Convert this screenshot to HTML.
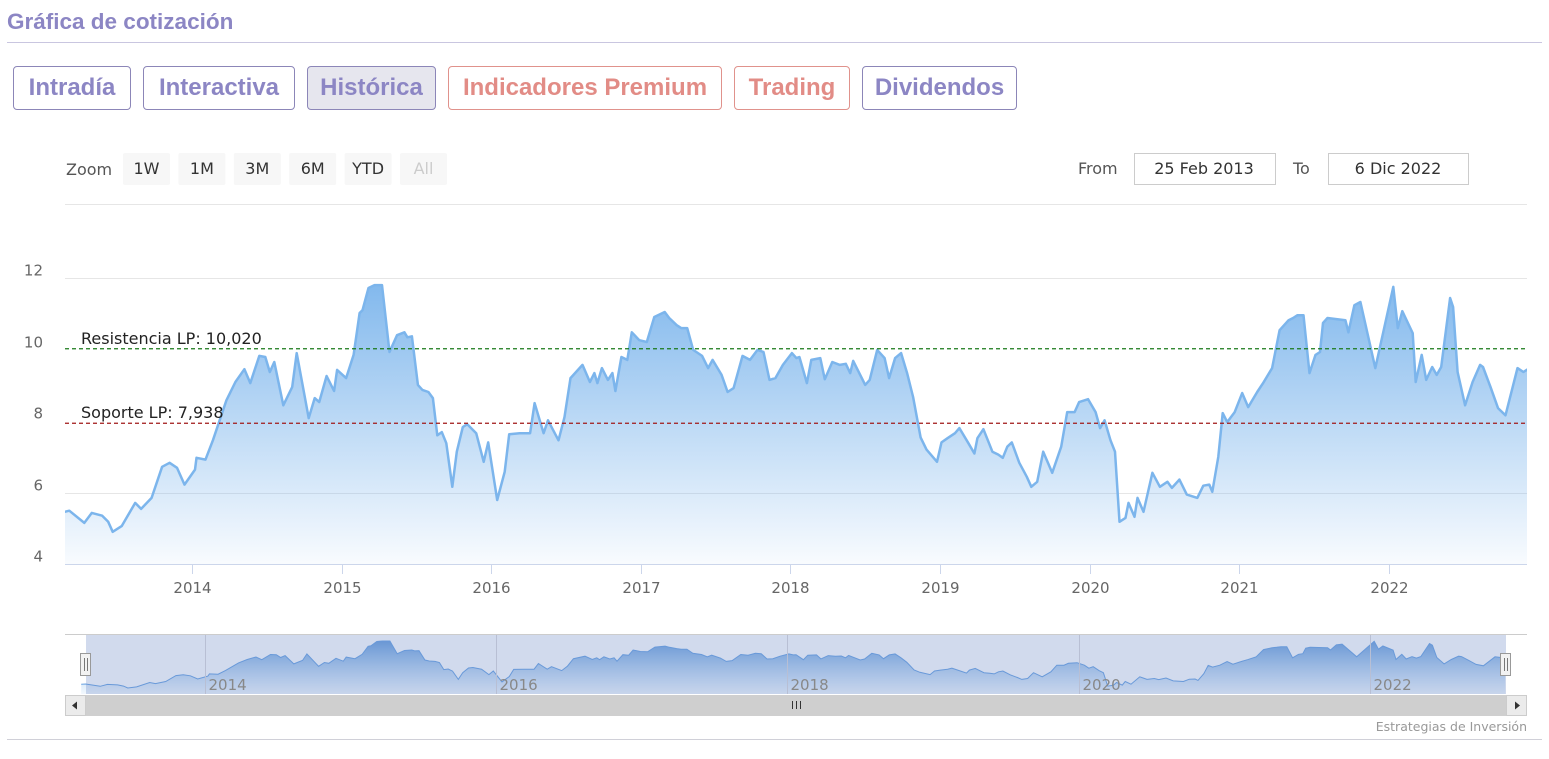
<!DOCTYPE html>
<html><head><meta charset="utf-8">
<style>
body{margin:0;width:1549px;height:759px;background:#fff;font-family:"Liberation Sans",sans-serif;position:relative;overflow:hidden}
.abs{position:absolute}
.tab{position:absolute;top:66px;height:44px;border:1px solid #8c86b8;border-radius:4px;box-sizing:border-box;font-weight:bold;font-size:24px;color:#8c86c4;display:flex;align-items:center;justify-content:center}
.tab.red{border-color:#e0928c;color:#e28c86}
.tab.act{background:#e6e6ee}
svg text{font-family:"DejaVu Sans",sans-serif}
</style></head><body>
<div class="abs" style="left:7px;top:9px;font-size:22.5px;font-weight:bold;color:#8c86c4">Gráfica de cotización</div>
<div class="abs" style="left:7px;top:42px;width:1535px;height:1px;background:#c9c6e0"></div>
<div class="tab" style="left:13px;width:118px">Intradía</div>
<div class="tab" style="left:143px;width:152px">Interactiva</div>
<div class="tab act" style="left:307px;width:129px">Histórica</div>
<div class="tab red" style="left:448px;width:274px">Indicadores Premium</div>
<div class="tab red" style="left:734px;width:116px">Trading</div>
<div class="tab" style="left:862px;width:155px">Dividendos</div>

<svg id="chart" class="abs" style="left:0;top:0" width="1549" height="759">
<defs>
<linearGradient id="fillg" x1="0" y1="0" x2="0" y2="1">
<stop offset="0" stop-color="#7cb5ec" stop-opacity="0.95"/>
<stop offset="1" stop-color="#7cb5ec" stop-opacity="0.05"/>
</linearGradient>
<linearGradient id="navg" x1="0" y1="0" x2="0" y2="1">
<stop offset="0" stop-color="#5b95d8" stop-opacity="0.9"/>
<stop offset="1" stop-color="#7cb5ec" stop-opacity="0.1"/>
</linearGradient>
<clipPath id="plotclip"><rect x="65" y="200" width="1462" height="364"/></clipPath>
</defs>
<text x="66" y="175" font-size="16" fill="#555">Zoom</text>
<g id="zoombtns"></g>
<text x="1078" y="174" font-size="16" fill="#555">From</text>
<rect x="1134.5" y="153.5" width="141" height="31" fill="#fff" stroke="#ccc"/>
<text x="1204" y="174" font-size="16" fill="#333" text-anchor="middle">25 Feb 2013</text>
<text x="1293" y="174" font-size="16" fill="#555">To</text>
<rect x="1328.5" y="153.5" width="140" height="31" fill="#fff" stroke="#ccc"/>
<text x="1398" y="174" font-size="16" fill="#333" text-anchor="middle">6 Dic 2022</text>
<line x1="65" y1="204.5" x2="1527" y2="204.5" stroke="#e6e6e6"/>
<g id="grid"></g>
<g id="series" clip-path="url(#plotclip)"></g>
<g id="plotlines"></g>
<g id="xaxis"></g>
<g id="nav"></g>
<text x="1527" y="731" font-size="12.5" fill="#999" text-anchor="end">Estrategias de Inversión</text>
<line x1="7" y1="739.5" x2="1542" y2="739.5" stroke="#d0d0d8"/>
</svg>
<script>
const dates=[2013.15,2013.18,2013.28,2013.33,2013.40,2013.44,2013.47,2013.53,2013.62,2013.66,2013.73,2013.80,2013.85,2013.90,2013.95,2014.02,2014.03,2014.09,2014.14,2014.23,2014.29,2014.35,2014.39,2014.45,2014.49,2014.52,2014.55,2014.61,2014.67,2014.70,2014.78,2014.82,2014.85,2014.90,2014.95,2014.97,2015.03,2015.08,2015.12,2015.14,2015.18,2015.22,2015.27,2015.32,2015.37,2015.42,2015.44,2015.47,2015.51,2015.54,2015.58,2015.61,2015.64,2015.67,2015.70,2015.74,2015.77,2015.81,2015.84,2015.90,2015.95,2015.98,2016.04,2016.09,2016.12,2016.19,2016.26,2016.29,2016.35,2016.38,2016.45,2016.49,2016.53,2016.61,2016.66,2016.69,2016.71,2016.74,2016.78,2016.81,2016.83,2016.87,2016.91,2016.94,2016.99,2017.04,2017.09,2017.16,2017.19,2017.24,2017.27,2017.31,2017.35,2017.41,2017.45,2017.48,2017.54,2017.58,2017.62,2017.68,2017.73,2017.78,2017.82,2017.86,2017.90,2017.95,2018.01,2018.04,2018.06,2018.11,2018.14,2018.20,2018.23,2018.28,2018.33,2018.37,2018.40,2018.42,2018.50,2018.53,2018.58,2018.63,2018.66,2018.70,2018.74,2018.78,2018.82,2018.87,2018.91,2018.98,2019.01,2019.05,2019.10,2019.13,2019.19,2019.23,2019.25,2019.29,2019.35,2019.39,2019.42,2019.45,2019.48,2019.53,2019.58,2019.61,2019.65,2019.69,2019.75,2019.81,2019.85,2019.90,2019.93,2019.99,2020.04,2020.07,2020.10,2020.14,2020.17,2020.20,2020.24,2020.26,2020.30,2020.32,2020.36,2020.42,2020.47,2020.52,2020.55,2020.60,2020.65,2020.72,2020.76,2020.80,2020.82,2020.86,2020.89,2020.92,2020.97,2021.02,2021.06,2021.12,2021.16,2021.22,2021.27,2021.33,2021.36,2021.39,2021.43,2021.47,2021.51,2021.54,2021.56,2021.59,2021.65,2021.71,2021.73,2021.77,2021.81,2021.91,2022.03,2022.06,2022.09,2022.16,2022.18,2022.22,2022.25,2022.29,2022.32,2022.35,2022.41,2022.43,2022.46,2022.51,2022.56,2022.61,2022.63,2022.68,2022.73,2022.78,2022.86,2022.90,2022.93];
const prices=[5.46,5.49,5.15,5.43,5.35,5.18,4.90,5.06,5.71,5.54,5.85,6.72,6.83,6.69,6.22,6.64,6.97,6.92,7.46,8.58,9.09,9.45,9.06,9.82,9.79,9.37,9.65,8.44,8.95,9.90,8.08,8.64,8.53,9.26,8.84,9.43,9.20,9.85,11.02,11.10,11.72,11.80,11.80,9.93,10.40,10.48,10.34,10.37,9.01,8.87,8.81,8.64,7.60,7.69,7.38,6.16,7.14,7.83,7.91,7.66,6.86,7.40,5.79,6.58,7.63,7.66,7.66,8.50,7.66,8.02,7.46,8.11,9.20,9.57,9.09,9.34,9.06,9.48,9.15,9.34,8.84,9.79,9.71,10.48,10.26,10.21,10.91,11.05,10.88,10.68,10.60,10.60,9.99,9.82,9.48,9.71,9.29,8.81,8.92,9.82,9.71,9.99,9.93,9.15,9.20,9.57,9.90,9.76,9.79,9.06,9.71,9.76,9.17,9.65,9.57,9.60,9.34,9.68,9.01,9.15,9.99,9.76,9.20,9.76,9.90,9.34,8.67,7.54,7.20,6.86,7.40,7.52,7.66,7.80,7.38,7.09,7.52,7.77,7.14,7.06,6.97,7.28,7.40,6.83,6.44,6.16,6.30,7.14,6.55,7.28,8.25,8.25,8.53,8.61,8.25,7.80,8.02,7.46,7.14,5.18,5.29,5.71,5.32,5.85,5.46,6.55,6.16,6.30,6.13,6.36,5.94,5.85,6.19,6.22,6.02,7.00,8.22,7.97,8.25,8.78,8.39,8.81,9.06,9.48,10.54,10.82,10.88,10.96,10.96,9.34,9.85,9.93,10.74,10.88,10.85,10.82,10.48,11.24,11.33,9.48,11.75,10.60,11.07,10.46,9.09,9.85,9.15,9.51,9.29,9.51,11.44,11.19,9.37,8.44,9.09,9.57,9.51,8.95,8.36,8.16,9.48,9.37,9.45];
const yTicks=[4,6,8,10,12];
const xTickYears=[2014,2015,2016,2017,2018,2019,2020,2021,2022];
const navTickYears=[2014,2016,2018,2020,2022];
const plotLineValues=[10.02,7.938];
const plotLineLabels=["Resistencia LP: 10,020","Soporte LP: 7,938"];
const zoomLabels=["1W","1M","3M","6M","YTD","All"];

const NS="http://www.w3.org/2000/svg";
function mk(tag,attrs,parent,txt){const e=document.createElementNS(NS,tag);for(const k in attrs)e.setAttribute(k,attrs[k]);if(txt!==undefined)e.textContent=txt;parent.appendChild(e);return e;}
const X0=2014,XP=192,XS=149.6;
const xScale=t=>XP+(t-X0)*XS;
const yScale=v=>564-(v-4)*35.75;
const navX=t=>205+(t-2014)*145.6;
const navY=v=>641+(11.8-v)*6.81;

const zb=document.getElementById('zoombtns');
zoomLabels.forEach((l,i)=>{
  const x=123+i*55.4;
  const r=mk('rect',{x:x,y:153,width:47,height:32,rx:2,fill:'#f7f7f7'},zb);
  
  
  const t=mk('text',{x:x+23.5,y:174,'font-size':16,'text-anchor':'middle',fill:l==='All'?'#ccc':'#333'},zb,l);
  
  
});

const g=document.getElementById('grid');
yTicks.forEach(v=>{
  const y=Math.round(yScale(v))+0.5;
  if(v!==10&&v!==8){const ln=mk('line',{x1:65,x2:1527,y1:y,y2:y,stroke:'#e6e6e6'},g);
  
  }
  const t=mk('text',{x:43,y:y-3,'font-size':15,fill:'#666','text-anchor':'end'},g,String(v));
  
  
});

const s=document.getElementById('series');
let d='';
dates.forEach((t,i)=>{d+=(i?'L':'M')+xScale(t).toFixed(1)+','+yScale(prices[i]).toFixed(1);});
const area=mk('path',{d:d+'L'+xScale(dates[dates.length-1]).toFixed(1)+',564L'+xScale(dates[0]).toFixed(1)+',564Z',fill:'url(#fillg)'},s);


const line=mk('path',{d:d,fill:'none',stroke:'#7cb5ec','stroke-width':2.5,'stroke-linejoin':'round'},s);



const pl=document.getElementById('plotlines');
const plColors=['#1a7a1a','#a01818'];
plotLineValues.forEach((v,i)=>{
  const y=yScale(v);
  const l=mk('line',{x1:65,x2:1527,y1:y,y2:y,stroke:plColors[i],'stroke-width':1.2,'stroke-dasharray':'4,3'},pl);
  
  
  const t=mk('text',{x:81,y:y-5,'font-size':16,fill:'#222'},pl,plotLineLabels[i]);
  
  
});

const xa=document.getElementById('xaxis');
const axl=mk('line',{x1:65,x2:1527,y1:564.5,y2:564.5,stroke:'#ccd6eb'},xa);


xTickYears.forEach(yr=>{
  const x=Math.round(xScale(yr))+0.5;
  const tk=mk('line',{x1:x,x2:x,y1:564,y2:574,stroke:'#ccd6eb'},xa);
  
  
  const t=mk('text',{x:x,y:593,'font-size':15,fill:'#666','text-anchor':'middle'},xa,String(yr));
  
  
});

const nv=document.getElementById('nav');
const nb=mk('line',{x1:65,x2:1527,y1:634.5,y2:634.5,stroke:'#ccc'},nv);


let nd='';
dates.forEach((t,i)=>{nd+=(i?'L':'M')+navX(t).toFixed(1)+','+navY(prices[i]).toFixed(1);});
const na=mk('path',{d:nd+'L'+navX(dates[dates.length-1]).toFixed(1)+',694L'+navX(dates[0]).toFixed(1)+',694Z',fill:'url(#navg)'},nv);


const nl=mk('path',{d:nd,fill:'none',stroke:'#6aa3e2','stroke-width':1},nv);


const mask=mk('rect',{x:86,y:635,width:1420,height:59,fill:'rgba(102,133,194,0.3)'},nv);


navTickYears.forEach(yr=>{
  const x=Math.round(navX(yr))+0.5;
  const l=mk('line',{x1:x,x2:x,y1:635,y2:694,stroke:'#b8bfd4'},nv);
  
  
  const t=mk('text',{x:x+3,y:690,'font-size':15,fill:'#888'},nv,String(yr));
  
  
});
[86,1506].forEach((x,i)=>{
  const h=mk('rect',{x:x-5.5,y:653.5,width:10,height:22,fill:'#f2f2f2',stroke:'#999'},nv);
  
  
  mk('line',{x1:x-1.5,x2:x-1.5,y1:658,y2:671,stroke:'#777'},nv);
  mk('line',{x1:x+1.5,x2:x+1.5,y1:658,y2:671,stroke:'#777'},nv);
});
const sb=mk('rect',{x:65,y:695,width:1462,height:21,fill:'#cfcfcf'},nv);


const lb=mk('rect',{x:65.5,y:695.5,width:20,height:20,fill:'#ebebeb',stroke:'#ccc'},nv);


mk('path',{d:'M72,705.5L77,701.5L77,709.5Z',fill:'#333'},nv);
const rb=mk('rect',{x:1506.5,y:695.5,width:20,height:20,fill:'#ebebeb',stroke:'#ccc'},nv);


mk('path',{d:'M1520,705.5L1515,701.5L1515,709.5Z',fill:'#333'},nv);
[792.5,796.5,800.5].forEach(x=>mk('line',{x1:x,x2:x,y1:701,y2:709,stroke:'#333'},nv));
</script>
</body></html>
